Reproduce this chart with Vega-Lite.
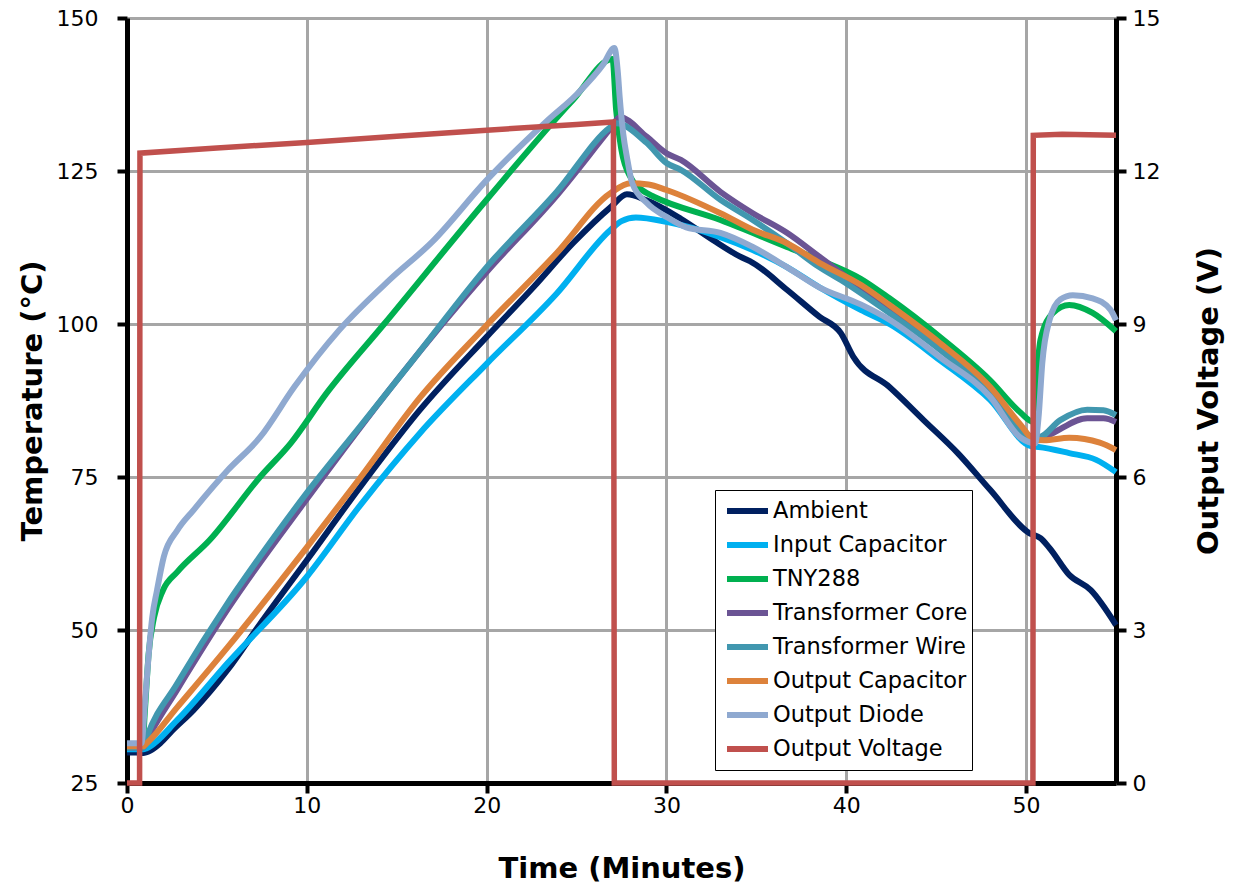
{
  "$schema": "https://vega.github.io/schema/vega-lite/v6.json",
  "width": 989,
  "height": 765,
  "autosize": {"type": "none"},
  "padding": {"left": 127, "top": 18, "right": 124, "bottom": 105},
  "background": "white",
  "config": {"view": {"stroke": null}, "font": "DejaVu Sans"},
  "layer": [
    {
      "data": {"values": [
        {"s":"Ambient","t":0,"T":30},{"s":"Ambient","t":0.5,"T":30},{"s":"Ambient","t":0.9,"T":29.9},{"s":"Ambient","t":1.3,"T":30.3},{"s":"Ambient","t":1.85,"T":31.5},{"s":"Ambient","t":2.5,"T":33.5},{"s":"Ambient","t":3.7,"T":36.9},{"s":"Ambient","t":5.6,"T":43.5},{"s":"Ambient","t":7.4,"T":51},{"s":"Ambient","t":10,"T":61.4},{"s":"Ambient","t":13,"T":73.5},{"s":"Ambient","t":16.3,"T":86},{"s":"Ambient","t":20,"T":97.9},{"s":"Ambient","t":22.6,"T":106},{"s":"Ambient","t":24.8,"T":113.2},{"s":"Ambient","t":26.9,"T":119.1},{"s":"Ambient","t":27.8,"T":121.2},{"s":"Ambient","t":28.9,"T":120.2},{"s":"Ambient","t":30.8,"T":117.2},{"s":"Ambient","t":32.6,"T":113.7},{"s":"Ambient","t":34.1,"T":111},{"s":"Ambient","t":34.8,"T":110},{"s":"Ambient","t":36.7,"T":105.6},{"s":"Ambient","t":38.5,"T":101.2},{"s":"Ambient","t":39.7,"T":98.5},{"s":"Ambient","t":40.4,"T":94.6},{"s":"Ambient","t":42.4,"T":89.7},{"s":"Ambient","t":44.3,"T":84.3},{"s":"Ambient","t":46.2,"T":78.9},{"s":"Ambient","t":48,"T":72.9},{"s":"Ambient","t":50.2,"T":65.8},{"s":"Ambient","t":50.8,"T":65},{"s":"Ambient","t":51.3,"T":63.4},{"s":"Ambient","t":52.4,"T":59},{"s":"Ambient","t":53.6,"T":56.5},{"s":"Ambient","t":55,"T":50.8},
        {"s":"Input Capacitor","t":0,"T":30.5},{"s":"Input Capacitor","t":0.9,"T":30.5},{"s":"Input Capacitor","t":1.1,"T":30.7},{"s":"Input Capacitor","t":2.8,"T":35.3},{"s":"Input Capacitor","t":5.6,"T":44.6},{"s":"Input Capacitor","t":10,"T":58.7},{"s":"Input Capacitor","t":13,"T":70.5},{"s":"Input Capacitor","t":16.3,"T":82.2},{"s":"Input Capacitor","t":20,"T":93.5},{"s":"Input Capacitor","t":23.9,"T":105},{"s":"Input Capacitor","t":26.9,"T":115.4},{"s":"Input Capacitor","t":27.5,"T":116.8},{"s":"Input Capacitor","t":28.3,"T":117.4},{"s":"Input Capacitor","t":30,"T":116.7},{"s":"Input Capacitor","t":33,"T":114.2},{"s":"Input Capacitor","t":34.8,"T":112.1},{"s":"Input Capacitor","t":36.7,"T":109.3},{"s":"Input Capacitor","t":38.5,"T":106},{"s":"Input Capacitor","t":40.8,"T":102.3},{"s":"Input Capacitor","t":42.4,"T":100},{"s":"Input Capacitor","t":45.2,"T":94.1},{"s":"Input Capacitor","t":48,"T":87.6},{"s":"Input Capacitor","t":50.3,"T":80},{"s":"Input Capacitor","t":50.7,"T":79.9},{"s":"Input Capacitor","t":52.4,"T":78.9},{"s":"Input Capacitor","t":53.9,"T":77.8},{"s":"Input Capacitor","t":55,"T":75.8},
        {"s":"TNY288","t":0,"T":31},{"s":"TNY288","t":0.85,"T":31},{"s":"TNY288","t":1.0,"T":37},{"s":"TNY288","t":1.2,"T":46},{"s":"TNY288","t":1.5,"T":52},{"s":"TNY288","t":2.0,"T":56.5},{"s":"TNY288","t":2.8,"T":59.5},{"s":"TNY288","t":4.6,"T":64.7},{"s":"TNY288","t":7.4,"T":75},{"s":"TNY288","t":9.1,"T":80.5},{"s":"TNY288","t":11.1,"T":88.7},{"s":"TNY288","t":14.3,"T":100},{"s":"TNY288","t":20,"T":120.3},{"s":"TNY288","t":24.8,"T":136.6},{"s":"TNY288","t":27,"T":143.3},{"s":"TNY288","t":27.2,"T":135},{"s":"TNY288","t":27.5,"T":128.4},{"s":"TNY288","t":28,"T":124},{"s":"TNY288","t":28.9,"T":121.4},{"s":"TNY288","t":29.3,"T":120.8},{"s":"TNY288","t":33,"T":117},{"s":"TNY288","t":36.7,"T":112.6},{"s":"TNY288","t":38.5,"T":110.5},{"s":"TNY288","t":40.8,"T":107.4},{"s":"TNY288","t":42.4,"T":104.2},{"s":"TNY288","t":45.2,"T":97.9},{"s":"TNY288","t":48,"T":90.8},{"s":"TNY288","t":49.7,"T":85.5},{"s":"TNY288","t":50.4,"T":84},{"s":"TNY288","t":50.6,"T":92},{"s":"TNY288","t":50.8,"T":97.4},{"s":"TNY288","t":51.5,"T":101.8},{"s":"TNY288","t":52.4,"T":103.1},{"s":"TNY288","t":53.7,"T":101.8},{"s":"TNY288","t":55,"T":98.8},
        {"s":"Transformer Core","t":0,"T":30.8},{"s":"Transformer Core","t":0.9,"T":30.8},{"s":"Transformer Core","t":1.1,"T":32},{"s":"Transformer Core","t":2.8,"T":40.3},{"s":"Transformer Core","t":5.6,"T":53.4},{"s":"Transformer Core","t":10,"T":71.4},{"s":"Transformer Core","t":15,"T":90.8},{"s":"Transformer Core","t":20,"T":108.5},{"s":"Transformer Core","t":23.9,"T":121},{"s":"Transformer Core","t":26.9,"T":132},{"s":"Transformer Core","t":27.4,"T":133.8},{"s":"Transformer Core","t":28.9,"T":130.6},{"s":"Transformer Core","t":30,"T":127.9},{"s":"Transformer Core","t":30.8,"T":126.8},{"s":"Transformer Core","t":33,"T":121.6},{"s":"Transformer Core","t":34.8,"T":118.1},{"s":"Transformer Core","t":36.7,"T":114.9},{"s":"Transformer Core","t":38.5,"T":111},{"s":"Transformer Core","t":40.8,"T":106},{"s":"Transformer Core","t":42.4,"T":102.8},{"s":"Transformer Core","t":45.2,"T":96.3},{"s":"Transformer Core","t":48,"T":89},{"s":"Transformer Core","t":50.3,"T":81.5},{"s":"Transformer Core","t":50.7,"T":81},{"s":"Transformer Core","t":51.5,"T":82.2},{"s":"Transformer Core","t":53.4,"T":84.6},{"s":"Transformer Core","t":54.3,"T":84.6},{"s":"Transformer Core","t":55,"T":84},
        {"s":"Transformer Wire","t":0,"T":30.8},{"s":"Transformer Wire","t":0.9,"T":30.8},{"s":"Transformer Wire","t":1.1,"T":32.5},{"s":"Transformer Wire","t":2.8,"T":41.3},{"s":"Transformer Wire","t":5.6,"T":54.4},{"s":"Transformer Wire","t":7.4,"T":62},{"s":"Transformer Wire","t":10,"T":72.4},{"s":"Transformer Wire","t":13,"T":83.4},{"s":"Transformer Wire","t":15.9,"T":94.1},{"s":"Transformer Wire","t":20,"T":109.3},{"s":"Transformer Wire","t":23.9,"T":121.6},{"s":"Transformer Wire","t":26.9,"T":132.2},{"s":"Transformer Wire","t":27.2,"T":132.8},{"s":"Transformer Wire","t":28.9,"T":129.6},{"s":"Transformer Wire","t":30,"T":126.3},{"s":"Transformer Wire","t":30.8,"T":125.2},{"s":"Transformer Wire","t":33,"T":120.3},{"s":"Transformer Wire","t":34.8,"T":117},{"s":"Transformer Wire","t":36.7,"T":113.2},{"s":"Transformer Wire","t":38.5,"T":109.3},{"s":"Transformer Wire","t":39.7,"T":107.2},{"s":"Transformer Wire","t":42.4,"T":101.8},{"s":"Transformer Wire","t":45.2,"T":95.8},{"s":"Transformer Wire","t":48,"T":88.7},{"s":"Transformer Wire","t":50.3,"T":81.5},{"s":"Transformer Wire","t":50.7,"T":81.5},{"s":"Transformer Wire","t":51.9,"T":84.3},{"s":"Transformer Wire","t":53.4,"T":86},{"s":"Transformer Wire","t":54.3,"T":85.9},{"s":"Transformer Wire","t":55,"T":85.1},
        {"s":"Output Capacitor","t":0,"T":31},{"s":"Output Capacitor","t":0.9,"T":31},{"s":"Output Capacitor","t":1.1,"T":31.5},{"s":"Output Capacitor","t":2.8,"T":37.4},{"s":"Output Capacitor","t":5.6,"T":47.2},{"s":"Output Capacitor","t":10,"T":63.5},{"s":"Output Capacitor","t":13,"T":75},{"s":"Output Capacitor","t":16.3,"T":88},{"s":"Output Capacitor","t":20,"T":99.8},{"s":"Output Capacitor","t":23.9,"T":111.6},{"s":"Output Capacitor","t":26.9,"T":121.4},{"s":"Output Capacitor","t":28,"T":123},{"s":"Output Capacitor","t":29,"T":122.8},{"s":"Output Capacitor","t":30,"T":121.9},{"s":"Output Capacitor","t":33,"T":118.1},{"s":"Output Capacitor","t":34.8,"T":115.4},{"s":"Output Capacitor","t":36.7,"T":113.2},{"s":"Output Capacitor","t":38.5,"T":110},{"s":"Output Capacitor","t":40.8,"T":106.4},{"s":"Output Capacitor","t":42.4,"T":103.1},{"s":"Output Capacitor","t":45.2,"T":96.9},{"s":"Output Capacitor","t":48,"T":89.7},{"s":"Output Capacitor","t":49.7,"T":83.5},{"s":"Output Capacitor","t":50.4,"T":81.2},{"s":"Output Capacitor","t":51,"T":81},{"s":"Output Capacitor","t":52.4,"T":81.4},{"s":"Output Capacitor","t":54.1,"T":80.6},{"s":"Output Capacitor","t":55,"T":79.4},
        {"s":"Output Diode","t":0,"T":31.5},{"s":"Output Diode","t":0.8,"T":31.5},{"s":"Output Diode","t":1.0,"T":38},{"s":"Output Diode","t":1.1,"T":42},{"s":"Output Diode","t":1.4,"T":52},{"s":"Output Diode","t":1.67,"T":56.5},{"s":"Output Diode","t":2.05,"T":62},{"s":"Output Diode","t":2.8,"T":66.3},{"s":"Output Diode","t":3.7,"T":69.6},{"s":"Output Diode","t":5.6,"T":76.1},{"s":"Output Diode","t":7.4,"T":81.5},{"s":"Output Diode","t":9.3,"T":89.7},{"s":"Output Diode","t":11.8,"T":99},{"s":"Output Diode","t":14.6,"T":107.2},{"s":"Output Diode","t":17,"T":113.5},{"s":"Output Diode","t":20,"T":123.5},{"s":"Output Diode","t":23.4,"T":133.3},{"s":"Output Diode","t":25,"T":137.5},{"s":"Output Diode","t":26.5,"T":142.5},{"s":"Output Diode","t":27.1,"T":145.1},{"s":"Output Diode","t":27.3,"T":141},{"s":"Output Diode","t":27.4,"T":137},{"s":"Output Diode","t":27.6,"T":131},{"s":"Output Diode","t":27.8,"T":127.3},{"s":"Output Diode","t":28.1,"T":123},{"s":"Output Diode","t":28.9,"T":119.8},{"s":"Output Diode","t":30,"T":117.5},{"s":"Output Diode","t":31.1,"T":115.8},{"s":"Output Diode","t":33,"T":114.9},{"s":"Output Diode","t":34.8,"T":112.6},{"s":"Output Diode","t":36.7,"T":109.3},{"s":"Output Diode","t":38.5,"T":106},{"s":"Output Diode","t":40.8,"T":103.2},{"s":"Output Diode","t":42.4,"T":100.7},{"s":"Output Diode","t":45.2,"T":94.6},{"s":"Output Diode","t":48,"T":88.1},{"s":"Output Diode","t":49.7,"T":81.4},{"s":"Output Diode","t":50.5,"T":80.5},{"s":"Output Diode","t":50.7,"T":85},{"s":"Output Diode","t":50.9,"T":93.6},{"s":"Output Diode","t":51.3,"T":100.6},{"s":"Output Diode","t":51.9,"T":104},{"s":"Output Diode","t":52.6,"T":104.7},{"s":"Output Diode","t":53.7,"T":104.2},{"s":"Output Diode","t":54.7,"T":102.3},{"s":"Output Diode","t":55,"T":100.6}
      ]},
      "mark": {"type": "line", "strokeWidth": 6, "strokeJoin": "round", "interpolate": "monotone"},
      "encoding": {
        "x": {"field": "t", "type": "quantitative", "scale": {"domain": [0, 55], "nice": false, "zero": false},
          "axis": {"values": [0,10,20,30,40,50], "grid": true, "gridColor": "#A6A6A6", "gridWidth": 3, "domainColor": "black", "domainWidth": 5, "tickColor": "black", "tickWidth": 4, "tickSize": 10, "labelFontSize": 22, "labelFont": "DejaVu Sans", "labelColor": "black", "labelPadding": 2, "labelFlush": false, "title": "Time (Minutes)", "titleFont": "DejaVu Sans", "titleFontSize": 29, "titleFontWeight": "bold", "titleColor": "black", "titleX": 494.5, "titleY": 94, "titleBaseline": "alphabetic", "titleAlign": "center"}},
        "y": {"field": "T", "type": "quantitative", "scale": {"domain": [25, 150], "nice": false, "zero": false},
          "axis": {"values": [25,50,75,100,125,150], "grid": true, "gridColor": "#A6A6A6", "gridWidth": 3, "domainColor": "black", "domainWidth": 5, "tickColor": "black", "tickWidth": 4, "tickSize": 10, "labelFontSize": 22, "labelFont": "DejaVu Sans", "labelColor": "black", "labelPadding": 19, "labelFlush": false, "title": "Temperature (°C)", "titleFont": "DejaVu Sans", "titleFontSize": 29, "titleFontWeight": "bold", "titleColor": "black", "titleAngle": 270, "titleBaseline": "bottom", "titleAlign": "center", "titleX": -80, "titleY": 382.5}},
        "color": {"field": "s", "type": "nominal",
          "scale": {"domain": ["Ambient","Input Capacitor","TNY288","Transformer Core","Transformer Wire","Output Capacitor","Output Diode","Output Voltage"],
                    "range": ["#002060","#00B0F0","#00B050","#6B5494","#4197AF","#DD823B","#8FA9D0","#C0504D"]},
          "legend": {"orient": "none", "legendX": 588, "legendY": 472, "title": null, "symbolType": "stroke", "symbolSize": 1681, "symbolStrokeWidth": 6, "labelFontSize": 22.5, "labelFont": "DejaVu Sans", "labelColor": "black", "fillColor": "white", "strokeColor": "black", "padding": 4, "clipHeight": 34, "rowPadding": 0, "labelOffset": 2, "symbolOffset": 5, "labelLimit": 400}}
      }
    },
    {
      "data": {"values": [
        {"s":"Output Voltage","t":0,"V":0},{"s":"Output Voltage","t":0.7,"V":0},{"s":"Output Voltage","t":0.72,"V":12.35},{"s":"Output Voltage","t":5,"V":12.45},{"s":"Output Voltage","t":10,"V":12.56},{"s":"Output Voltage","t":15,"V":12.68},{"s":"Output Voltage","t":20,"V":12.8},{"s":"Output Voltage","t":25,"V":12.91},{"s":"Output Voltage","t":27.05,"V":12.96},{"s":"Output Voltage","t":27.1,"V":0},{"s":"Output Voltage","t":50.38,"V":0},{"s":"Output Voltage","t":50.4,"V":12.7},{"s":"Output Voltage","t":52,"V":12.72},{"s":"Output Voltage","t":55,"V":12.7}
      ]},
      "mark": {"type": "line", "strokeWidth": 5.5, "strokeJoin": "miter"},
      "encoding": {
        "x": {"field": "t", "type": "quantitative"},
        "y": {"field": "V", "type": "quantitative", "scale": {"domain": [0, 15], "nice": false, "zero": false},
          "axis": {"orient": "right", "values": [0,3,6,9,12,15], "grid": false, "domainColor": "black", "domainWidth": 5, "tickColor": "black", "tickWidth": 4, "tickSize": 10, "labelFontSize": 22, "labelFont": "DejaVu Sans", "labelColor": "black", "labelPadding": 6, "labelFlush": false, "title": "Output Voltage (V)", "titleFont": "DejaVu Sans", "titleFontSize": 29, "titleFontWeight": "bold", "titleColor": "black", "titleAngle": 270, "titleBaseline": "top", "titleAlign": "center", "titleX": 78, "titleY": 382.5}},
        "color": {"field": "s", "type": "nominal"}
      }
    }
  ],
  "resolve": {"scale": {"y": "independent"}}
}
